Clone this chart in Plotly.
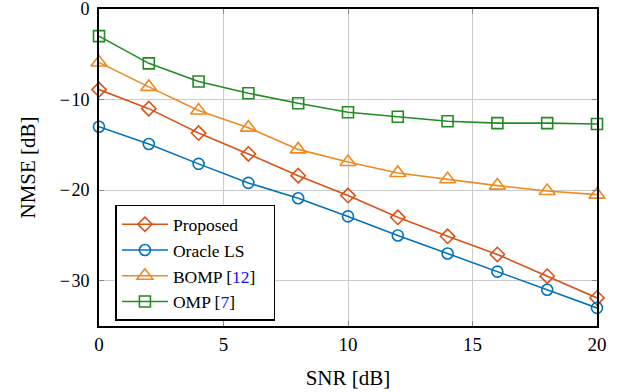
import plotly.graph_objects as go

snr = [0, 2, 4, 6, 8, 10, 12, 14, 16, 18, 20]
proposed = [-8.9, -11.0, -13.7, -16.0, -18.4, -20.6, -23.0, -25.1, -27.1, -29.5, -31.9]
oracle_ls = [-13.0, -14.9, -17.1, -19.2, -20.9, -22.9, -25.0, -27.0, -29.0, -31.0, -33.0]
bomp = [-5.9, -8.6, -11.2, -13.1, -15.5, -16.9, -18.1, -18.8, -19.5, -20.1, -20.5]
omp = [-3.0, -6.0, -8.0, -9.3, -10.4, -11.4, -11.9, -12.4, -12.6, -12.6, -12.7]

x_ticks = [0, 5, 10, 15, 20]
y_ticks = [0, -10, -20, -30]
y_tick_labels = ["0", "−\u200a10", "−\u200a20", "−\u200a30"]

series = [
    ("Proposed", proposed, "#D95319", "diamond-open", 11),
    ("Oracle LS", oracle_ls, "#0072BD", "circle-open", 11),
    ("BOMP [<span style='color:#1010FF'>12</span>]\u00a0\u00a0\u00a0", bomp, "#EE8A22", "triangle-up-open", 14),
    ("OMP [<span style='color:#1010FF'>7</span>]", omp, "#228B22", "square-open", 11),
]

fig = go.Figure()
for name, vals, color, sym, sz in series:
    fig.add_trace(go.Scatter(
        x=snr, y=vals, name=name, mode="lines+markers",
        line=dict(color=color, width=1.6),
        marker=dict(symbol=sym, size=sz, color=color, line=dict(color=color, width=1.6)),
        cliponaxis=False,
    ))

font_family = "Liberation Serif"
fig.update_layout(
    width=621, height=392,
    margin=dict(l=99, r=24, t=9, b=66, autoexpand=False),
    paper_bgcolor="white", plot_bgcolor="white",
    font=dict(family=font_family, size=19, color="black"),
    showlegend=True,
    legend=dict(
        x=0.033, y=0.382, xanchor="left", yanchor="top",
        bgcolor="white", bordercolor="black", borderwidth=1.5,
        font=dict(size=17.5, family=font_family),
        tracegroupgap=0, itemwidth=46,
    ),
    xaxis=dict(
        range=[0, 20], tickvals=x_ticks, ticktext=[str(t) for t in x_ticks],
        showgrid=True, gridcolor="#CCCCCC", gridwidth=1,
        showline=True, linecolor="black", linewidth=2, mirror="ticks",
        ticks="inside", ticklen=5, tickcolor="#888888",
        zeroline=False, automargin=False, ticklabeloverflow="allow",
        title=dict(text="SNR [dB]", standoff=17, font=dict(size=21, family=font_family)),
        tickfont=dict(size=19, family=font_family),
    ),
    yaxis=dict(
        range=[-35, 0], tickvals=y_ticks, ticktext=y_tick_labels,
        showgrid=True, gridcolor="#CCCCCC", gridwidth=1,
        showline=True, linecolor="black", linewidth=2, mirror="ticks",
        ticks="inside", ticklen=5, tickcolor="#888888",
        zeroline=False, automargin=False, ticklabeloverflow="allow",
        ticklabelstandoff=4,
        title=dict(text="NMSE [dB]", standoff=18, font=dict(size=21, family=font_family)),
        tickfont=dict(size=18, family=font_family),
    ),
)

fig.write_html(
    "out.html",
    config={"displayModeBar": False},
    post_script="document.body.style.margin='0';document.body.style.padding='0';",
)
